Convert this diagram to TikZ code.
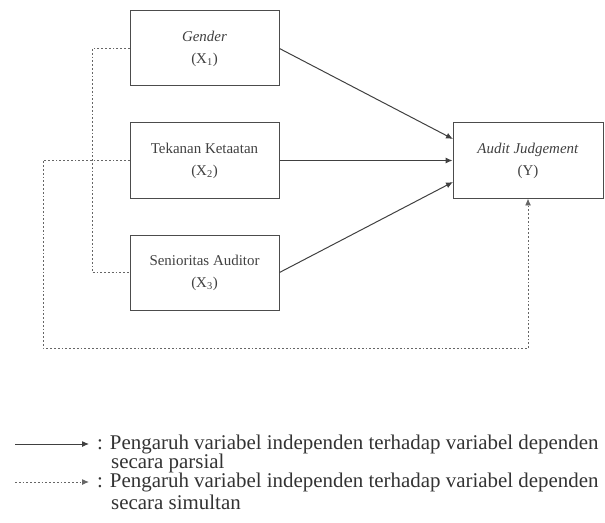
\documentclass[tikz,border=0pt]{standalone}
\usepackage{fontspec}
\setmainfont{Liberation Serif}
\usetikzlibrary{arrows.meta}
\begin{document}
\begin{tikzpicture}[x=1bp,y=-1bp,
  box/.style={draw=black!70,line width=1pt,minimum width=149bp,minimum height=75bp,inner sep=0pt,align=center,text=black!75,font=\fontsize{15}{22}\selectfont},
  tip/.style={-{Latex[length=7bp,width=6bp]}},
  solidarr/.style={draw=black!75,line width=1pt,tip},
  dotline/.style={draw=black!60,line width=1pt,dash pattern=on 1.8bp off 2bp},
  legtext/.style={anchor=west,inner sep=0pt,text=black!80,font=\fontsize{21}{20}\selectfont,align=left}]
\useasboundingbox (0,0) rectangle (605,523);
\node[box] (g) at (204.5,48.5) {\textit{Gender}\\(X\textsubscript{1})};
\node[box] (t) at (204.5,160.5) {Tekanan Ketaatan\\(X\textsubscript{2})};
\node[box] (s) at (204.5,272.5) {Senioritas Auditor\\(X\textsubscript{3})};
\node[box,minimum width=150bp] (y) at (528,160.5) {\textit{Audit Judgement}\\(Y)};
% solid arrows
\coordinate (ga) at (453,139);
\coordinate (sa) at (453,182);
\draw[solidarr] (g.east) -- (ga);
\draw[solidarr] (t.east) -- (y.west);
\draw[solidarr] (s.east) -- (sa);
% dotted connections
\coordinate (gl) at (92,48.5);
\coordinate (sl) at (92,272.5);
\coordinate (tl) at (43,160.5);
\coordinate (bl) at (43,348);
\coordinate (br) at (528,348);
\draw[dotline] (g.west) -- (gl) -- (sl) -- (s.west);
\draw[dotline] (t.west) -- (tl) -- (bl) -- (br);
\draw[dotline,tip] (br) -- (y.south);
% legend
\coordinate (l1a) at (15,444);
\coordinate (l1b) at (89,444);
\coordinate (l2a) at (15,482);
\coordinate (l2b) at (89,482);
\draw[solidarr] (l1a) -- (l1b);
\draw[dotline,tip] (l2a) -- (l2b);
\node[legtext] (t1) at (97,444) {: Pengaruh variabel independen terhadap variabel dependen};
\node[legtext] (t1b) at (111,463) {secara parsial};
\node[legtext] (t2) at (97,482) {: Pengaruh variabel independen terhadap variabel dependen};
\node[legtext] (t2b) at (111,502) {secara simultan};
\end{tikzpicture}
\end{document}
